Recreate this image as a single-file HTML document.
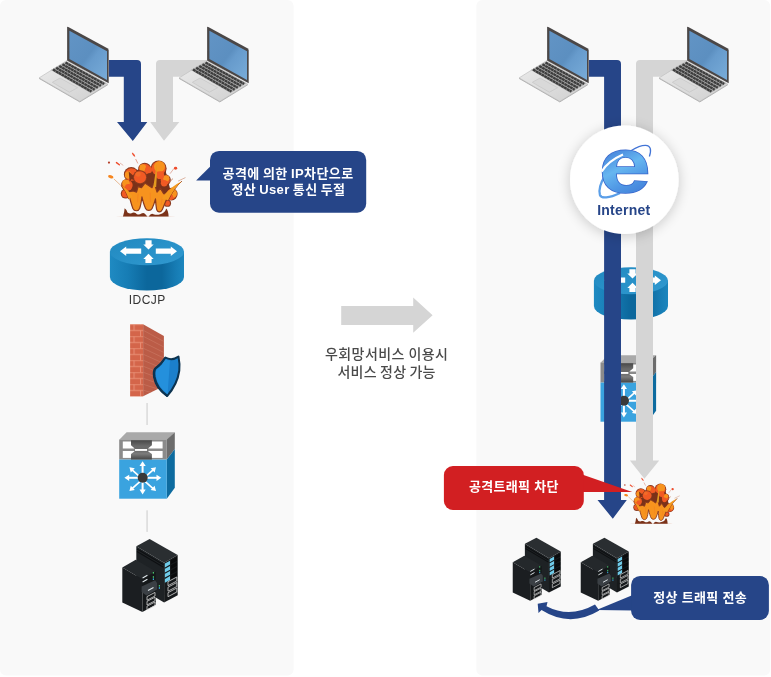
<!DOCTYPE html>
<html lang="ko">
<head>
<meta charset="utf-8">
<title>우회망서비스</title>
<style>
html,body{margin:0;padding:0;background:#fff;}
body{width:771px;height:677px;overflow:hidden;position:relative;font-family:"Liberation Sans","Noto Sans CJK KR",sans-serif;}
svg{position:absolute;left:0;top:0;display:block;will-change:transform;}
svg text{font-family:"Liberation Sans","Noto Sans CJK KR",sans-serif;}
.bt{font-size:13px;font-weight:700;fill:#fff;text-anchor:middle;letter-spacing:0.3px;}
.mid{font-size:14px;font-weight:500;fill:#4a4a4a;text-anchor:middle;letter-spacing:0.3px;}
</style>
</head>
<body>
<svg width="771" height="677" viewBox="0 0 771 677">
<defs>
<linearGradient id="scr" x1="0" y1="0" x2="1" y2="1">
<stop offset="0" stop-color="#6294c5"/><stop offset="0.5" stop-color="#5c8fc0"/><stop offset="0.6" stop-color="#679bcc"/><stop offset="1" stop-color="#78acd9"/>
</linearGradient>
<linearGradient id="base" x1="0" y1="0" x2="1" y2="1">
<stop offset="0" stop-color="#ececec"/><stop offset="1" stop-color="#cfcfcf"/>
</linearGradient>
<linearGradient id="rside" x1="0" y1="0" x2="1" y2="0">
<stop offset="0" stop-color="#1f8ac2"/><stop offset="0.25" stop-color="#167cb4"/><stop offset="0.5" stop-color="#0c679c"/><stop offset="0.7" stop-color="#0c679c"/><stop offset="0.9" stop-color="#177db5"/><stop offset="1" stop-color="#1c86be"/>
</linearGradient>
<filter id="sh" x="-40%" y="-40%" width="180%" height="180%">
<feGaussianBlur in="SourceAlpha" stdDeviation="6.5"/><feOffset dx="0" dy="1.5"/>
<feComponentTransfer><feFuncA type="linear" slope="0.2"/></feComponentTransfer>
<feMerge><feMergeNode/><feMergeNode in="SourceGraphic"/></feMerge>
</filter>

<!-- laptop: coordinates of laptop #1 -->
<g id="laptop">
<path d="M39.1 77.9 L67.1 60.4 L107.8 84.2 L79.8 101.4 Z" fill="url(#base)" stroke="#c4c4c4" stroke-width="0.8" stroke-linejoin="round"/>
<path d="M39.1 78.4 L79.8 101.9 L107.8 84.7" fill="none" stroke="#b5b5b5" stroke-width="1"/>
<path d="M50.9 70.1 L66.5 61.4 L106.3 83.3 L90.5 92.9 Z" fill="#a8a8a8"/><path d="M65.55 62.61L104.11 83.92M62.43 64.35L100.95 85.84M59.31 66.09L97.79 87.76M56.19 67.84L94.63 89.67M53.07 69.58L91.47 91.59" stroke="#3d3d3d" stroke-width="2.3" stroke-dasharray="2.9 0.35" fill="none"/>
<path d="M52.3 82.3 L60 78 L77.6 87.7 L69.4 92.2 Z" fill="#d9d9d9" stroke="#c2c2c2" stroke-width="0.6"/>
<path d="M67.1 27.6 Q67.1 26.4 68.3 27 L107.4 48.2 Q108.7 49 108.7 50.4 L108.7 83.2 L67.1 60.4 Z" fill="#4b4747"/>
<path d="M69.4 30.8 L107 51.2 L107 80 L69.4 58.9 Z" fill="url(#scr)"/>
</g>

<linearGradient id="rtop" x1="0" y1="0" x2="1" y2="1">
<stop offset="0" stop-color="#2089c0"/><stop offset="1" stop-color="#3199d0"/>
</linearGradient>
<linearGradient id="hg" x1="0" y1="0" x2="0" y2="1">
<stop offset="0" stop-color="#484848"/><stop offset="0.3" stop-color="#6a6a6a"/><stop offset="0.55" stop-color="#6c6c6c"/><stop offset="0.7" stop-color="#7c7c7c"/><stop offset="1" stop-color="#454545"/>
</linearGradient>
<linearGradient id="iegr" x1="0.2" y1="0" x2="0.5" y2="1">
<stop offset="0" stop-color="#3562c8"/><stop offset="0.3" stop-color="#4682da"/><stop offset="0.55" stop-color="#66b6f0"/><stop offset="0.75" stop-color="#4f96e4"/><stop offset="1" stop-color="#3d76d4"/>
</linearGradient>
<pattern id="brick" x="130.1" y="324.2" width="13" height="12" patternUnits="userSpaceOnUse">
<rect width="13" height="12" fill="#d4654a"/>
<path d="M0 0.3H13M0 6.3H13M4 0V6M10.5 6V12" stroke="#ea9379" stroke-width="0.9" fill="none"/>
</pattern>

<!-- router (coords of left router) -->
<g id="router">
<path d="M109.9 251.7 V277.1 A37.05 13.5 0 0 0 184 277.1 V251.7 Z" fill="url(#rside)"/>
<ellipse cx="146.95" cy="251.7" rx="37.05" ry="13.5" fill="url(#rtop)"/>
<path d="M120 251.2 L126.2 246.5 V248.6 H141.2 V253.8 H126.2 V255.9 Z" fill="#fff"/>
<path d="M177 251.2 L170.8 246.5 V248.6 H155.8 V253.8 H170.8 V255.9 Z" fill="#fff"/>
<path d="M148.5 249.6 L143.3 244.4 H145.4 V240.3 H151.6 V244.4 H153.7 Z" fill="#fff"/>
<path d="M148.5 253.8 L143.3 258.9 H145.4 V263.1 H151.6 V258.9 H153.7 Z" fill="#fff"/>
</g>

<!-- switch (coords of left switch) -->
<g id="switch">
<path d="M119.2 439.8 L126.6 432.2 H174.8 L166.8 439.8 Z" fill="#a9a9a9"/>
<path d="M166.8 439.6 L174.8 432.2 V449 L166.8 459.6 Z" fill="#6c6c6c"/>
<path d="M166.8 459.6 L174.8 449 V487.8 L166.8 498.7 Z" fill="#0d6b9f"/>
<rect x="119.2" y="439.6" width="47.6" height="20" fill="#8b8b8b"/>
<rect x="119.2" y="459.6" width="47.6" height="39.1" fill="#3aa3df"/>
<rect x="122.8" y="441.5" width="39.8" height="7" fill="#fff"/>
<rect x="122.8" y="451" width="39.8" height="6.9" fill="#fff"/>
<path d="M131 440.2 H151.9 V445.3 L148.3 448.2 V451.6 L151.9 454.1 V459.6 H131 V454.1 L134.4 451.6 V448.2 L131 445.3 Z" fill="url(#hg)"/>
<rect x="134.9" y="449" width="12.2" height="1.9" fill="#fff"/>
<g stroke="#fff" stroke-width="2" fill="#fff" stroke-linecap="butt">
<path d="M142.6 464 V492" fill="none"/><path d="M127 477.8 H159" fill="none"/>
<path d="M131.8 469.6 L153.4 488.8 M153.4 469.6 L131.8 488.8" fill="none" stroke-width="1.7"/>
</g>
<g fill="#fff">
<path d="M142.6 461.2 L145.7 466 H139.5 Z"/><path d="M142.6 494.4 L145.7 489.6 H139.5 Z"/>
<path d="M124.4 477.8 L129.2 474.7 V480.9 Z"/><path d="M161.3 477.8 L156.5 474.7 V480.9 Z"/>
<path d="M129.4 467.3 L134.8 468.3 L130.8 472.6 Z"/><path d="M156 467.3 L150.6 468.3 L154.6 472.6 Z"/>
<path d="M129.4 491.1 L134.8 490.1 L130.8 485.8 Z"/><path d="M156 491.1 L150.6 490.1 L154.6 485.8 Z"/>
</g>
<circle cx="142.7" cy="477.8" r="5" fill="#3a3a3a"/>
</g>

<!-- server (coords of left server) -->
<g id="server">
<path d="M136.3 546.2 L149.6 539.1 L177.7 555.1 L164.1 562.8 Z" fill="#2a2e31"/>
<path d="M136.3 546.2 L164.1 562.8 V602.4 L136.3 586 Z" fill="#1e2225"/>
<path d="M164.1 562.8 L177.7 555.1 V595.3 L164.1 602.4 Z" fill="#16191b"/>
<path d="M137 549 L163.5 564.8 M137 551.5 L163.5 567.3" stroke="#0e1012" stroke-width="1.2" fill="none"/>
<g fill="#6fcbe9">
<path d="M164.9 563.6 L170 560.8 V564.6 L164.9 567.4 Z"/>
<path d="M164.9 568.7 L170 565.9 V569.7 L164.9 572.5 Z"/>
<path d="M164.9 573.8 L170 571 V574.8 L164.9 577.6 Z"/>
<path d="M164.9 578.9 L170 576.1 V579.9 L164.9 582.7 Z"/>
</g>
<g fill="#0a0b0c">
<path d="M171 560.2 L177 556.9 V560.7 L171 564 Z"/>
<path d="M171 565.3 L177 562 V565.8 L171 569.1 Z"/>
<path d="M171 570.4 L177 567.1 V570.9 L171 574.2 Z"/>
<path d="M171 575.5 L177 572.2 V576 L171 579.3 Z"/>
</g>
<g fill="none" stroke="#d4d4d4" stroke-width="0.8">
<path d="M168 581.7 L176.8 577 V581 L168 585.7 Z"/>
<path d="M168 587.2 L176.8 582.5 V586.5 L168 591.2 Z"/>
<path d="M168 592.7 L176.8 588 V592 L168 596.7 Z"/>
</g>
<path d="M122.3 567.5 L135.7 559.8 L155.8 571.5 L142.4 579.2 Z" fill="#24282b"/>
<path d="M122.3 567.5 L142.4 579.2 V611.9 L122.3 602.4 Z" fill="#1b1e21"/>
<path d="M142.4 579.2 L155.8 571.5 V604.8 L142.4 611.9 Z" fill="#15181a"/>
<path d="M141.6 586.5 L155.2 580.3 L157 583 L157 589.5 L146.5 595.5 L141.6 592 Z" fill="#3b4045"/>
<path d="M142.6 578 L147.4 575.3 M142.6 582 L147.4 579.3 M148 590.5 L153.5 587.5" stroke="#dfe6ea" stroke-width="1.1" fill="none"/>
<g fill="#46c36a"><rect x="152.8" y="572" width="1.2" height="1.6"/><rect x="152.8" y="576.2" width="1.2" height="1.6"/><rect x="158.8" y="585" width="1.2" height="1.6"/></g>
<g fill="#3aa7e0"><rect x="152.8" y="578.4" width="1.2" height="1.6"/><rect x="158.8" y="587.2" width="1.2" height="1.6"/></g>
<g fill="none" stroke="#d4d4d4" stroke-width="0.8">
<path d="M147 596.6 L155 592.4 V596 L147 600.2 Z"/>
<path d="M147 601.4 L155 597.2 V600.8 L147 605 Z"/>
<path d="M147 606.2 L155 602 V605.6 L147 609.8 Z"/>
</g>
</g>

<!-- explosion, drawn in a 771x635 box -->
<g id="boom">
<ellipse cx="370" cy="602" rx="270" ry="5" fill="#ecd3c8" opacity="0.8"/>
<path d="M163 603 Q176 565 178 528 Q198 543 204 566 Q228 584 250 570 Q272 562 290 582 Q310 592 330 577 Q348 564 366 582 L384 603 Z" fill="#7b3219"/>
<path d="M396 603 Q418 568 440 582 Q470 593 500 582 Q542 572 556 530 Q574 546 577 603 Z" fill="#7b3219"/>
<g fill="#8b3a1e"><circle cx="238" cy="222" r="67"/><circle cx="360" cy="174" r="59"/><circle cx="486" cy="168" r="73"/><circle cx="546" cy="272" r="51"/><circle cx="204" cy="318" r="57"/><circle cx="188" cy="396" r="45"/><circle cx="602" cy="400" r="57"/><circle cx="566" cy="482" r="33"/></g>
<path d="M200 200 L300 180 L420 170 L550 190 L610 430 L190 430 Z" fill="#7b3219"/>
<g fill="#f15a24"><circle cx="238" cy="222" r="57"/><circle cx="360" cy="174" r="49"/><circle cx="486" cy="168" r="63"/><circle cx="546" cy="272" r="41"/><circle cx="204" cy="318" r="47"/><circle cx="188" cy="396" r="35"/><circle cx="602" cy="400" r="47"/><circle cx="566" cy="482" r="23"/></g>
<g fill="#f7931e"><circle cx="214" cy="226" r="34"/><circle cx="342" cy="160" r="30"/><circle cx="494" cy="150" r="50"/><circle cx="556" cy="256" r="28"/><circle cx="190" cy="302" r="34"/><circle cx="616" cy="394" r="36"/></g>
<g fill="#f15a24"><circle cx="212" cy="338" r="30"/><circle cx="592" cy="428" r="26"/><circle cx="500" cy="228" r="36"/><circle cx="395" cy="180" r="32"/><circle cx="258" cy="200" r="28"/><circle cx="536" cy="302" r="30"/><circle cx="200" cy="400" r="28"/></g>
<g fill="#7b3219"><path d="M215 195 L252 228 L292 215 L266 252 L282 278 L240 266 L224 288 L220 250 Z"/><path d="M380 214 L405 250 L432 216 L436 300 L466 270 L478 332 L446 362 L420 330 L400 352 L376 310 L360 332 L358 270 Z"/><path d="M262 318 L312 330 L322 378 L280 388 L254 360 Z"/><path d="M474 292 L510 312 L518 362 L480 368 L460 330 Z"/><path d="M540 362 L570 352 L562 402 L536 412 Z"/></g>
<circle cx="318" cy="247" r="64" fill="#8b3a1e"/><circle cx="318" cy="247" r="55" fill="#f15a24"/>
<circle cx="300" cy="218" r="24" fill="#f4742a" opacity="0.6"/>
<path d="M210 380 C225 440 240 500 253 530 C266 558 302 558 314 530 C324 505 330 465 335 426 C345 470 358 510 368 530 C380 554 414 554 427 530 C440 505 450 475 458 444 C460 480 464 515 468 538 C478 570 508 568 520 540 C547 480 566 430 582 380 Q562 402 532 396 L503 348 L472 382 L447 300 L426 342 L396 322 L362 300 L331 342 L300 332 L286 382 L256 372 Z" fill="#f7931e" stroke="#8b3a1e" stroke-width="11" stroke-linejoin="round"/>
<path d="M300 400 L296 470 M410 390 L412 470 M520 430 L508 500" stroke="#f47a20" stroke-width="6" stroke-linecap="round" fill="none" opacity="0.8"/>
<path d="M438 335 Q455 230 468 122 Q476 230 464 335 Z" fill="#e39a1f"/>
<path d="M697 283 Q625 345 574 456" fill="none" stroke="#8b3a1e" stroke-width="9"/><path d="M512 440 Q585 335 697 283 Q625 345 572 456 Z" fill="#f59a1e"/>
<path d="M148 322 Q190 370 216 446" fill="none" stroke="#8b3a1e" stroke-width="9"/><path d="M148 322 Q208 356 250 420 L216 446 Q190 370 148 322 Z" fill="#f59a1e"/>
<path d="M247 27 Q263 32 271 57 Q257 60 247 27 Z" fill="#ee4b2b" stroke="#ee4b2b" stroke-width="7" stroke-linejoin="round"/>
<path d="M278 82 L298 122" stroke="#dc8a74" stroke-width="7" fill="none"/>
<circle cx="36" cy="114" r="10" fill="#b5402a"/>
<path d="M104 114 L130 134" stroke="#ee4b2b" stroke-width="13" stroke-linecap="round" fill="none"/>
<path d="M136 118 L166 140" stroke="#dc9a88" stroke-width="6" fill="none"/>
<ellipse cx="52" cy="242" rx="25" ry="14" transform="rotate(15 52 242)" fill="#f6861f"/>
<path d="M80 262 L142 320" stroke="#e2a878" stroke-width="7" fill="none"/>
<ellipse cx="640" cy="166" rx="15" ry="13" fill="#ee4b2b"/>
<path d="M590 215 L622 172" stroke="#dc9a88" stroke-width="7" fill="none"/>
<path d="M583 292 L616 260" stroke="#c27a56" stroke-width="8" fill="none"/>
<path d="M663 282 L730 250" stroke="#d4a088" stroke-width="7" fill="none"/>
</g>
</defs>

<!-- panels -->
<rect x="0" y="0" width="293.6" height="675.6" rx="6" fill="#f9f9f9"/>
<rect x="476.3" y="0" width="293.9" height="675.6" rx="6" fill="#f9f9f9"/>

<!-- left arrows -->
<path d="M109 60 H137 Q141 60 141 64 V122 H147.3 L132.8 140.9 L117 122 H123.8 V76.8 H109 Z" fill="#264588"/>
<path d="M215 60 H160 Q156 60 156 64 V122 H150.2 L164 140.8 L179.3 122 H173 V76.8 H215 Z" fill="#d5d5d5"/>
<use href="#laptop"/>
<use href="#laptop" x="140"/>


<!-- left column icons -->
<use href="#boom" transform="translate(105 150) scale(0.11025)"/>
<use href="#router"/>
<clipPath id="fwc"><path d="M143.1 324.2 L163.9 336 V386 L143.1 396.2 Z"/></clipPath>
<g id="fw">
<rect x="130.1" y="324.2" width="13" height="72.3" fill="url(#brick)"/>
<path d="M143.1 324.2 L163.9 336 V386 L143.1 396.2 Z" fill="#bb5c47"/>
<path d="M143.1 330.2 L163.9 341.5 M143.1 336.2 L163.9 347 M143.1 342.2 L163.9 352.5 M143.1 348.2 L163.9 358 M143.1 354.2 L163.9 363.5 M143.1 360.2 L163.9 369 M143.1 366.2 L163.9 374.5 M143.1 372.2 L163.9 380 M143.1 378.2 L163.9 385.5 M143.1 384.2 L163.9 391 M143.1 390.2 L163.9 396" stroke="#cf7f6a" stroke-width="0.7" fill="none" opacity="0.75" clip-path="url(#fwc)"/>
<path d="M164.8 357.8 Q160.5 364.5 154.6 368.5 Q152.8 371 153.6 377 Q155.5 388.5 166.8 396.3 L167.3 393 Q158 386 156.5 377 Q155.8 372 157 370 Q162.5 366 165.6 360 Z" fill="#0c3350" stroke="#0c3350" stroke-width="1.2" stroke-linejoin="round"/>
<path d="M165.4 357.5 Q171.6 361.2 178.5 356.6 Q180 364 179.3 370.5 Q177.5 384 167.3 395.9 Q156.5 388 154.6 377 Q153.8 371 155.6 368.5 Q161.5 364.5 165.4 357.5 Z" fill="#1b7fcb" stroke="#0c3350" stroke-width="2" stroke-linejoin="round"/>
<path d="M165.6 359.2 Q167.8 360.6 170 360.6 L167.6 394 Q157.8 387 156 376.6 Q155.3 371.5 156.6 369.6 Q162 365.6 165.6 359.2 Z" fill="#2490dc"/>
</g>
<rect x="146.3" y="403" width="1.6" height="22" fill="#dcdcdc"/>
<use href="#switch"/>
<rect x="146.3" y="510.3" width="1.6" height="21.6" fill="#dcdcdc"/>
<use href="#server"/>

<!-- bubble 1 -->
<path d="M213 163.7 L196.1 180.6 H213 Z" fill="#264588"/>
<rect x="210" y="150.9" width="156.2" height="61.8" rx="9" fill="#264588"/>
<text class="bt" x="288.1" y="177.5" style="letter-spacing:0.4px;word-spacing:-0.7px">공격에 의한 IP차단으로</text>
<text class="bt" x="288.4" y="194.4" style="letter-spacing:0.32px;word-spacing:-0.6px">정산 User 통신 두절</text>

<!-- middle arrow -->
<path d="M341.2 306 H413.2 V297.6 L432.6 315.2 L413.2 332.8 V325 H341.2 Z" fill="#d5d5d5"/>
<text class="mid" x="386.7" y="359" style="letter-spacing:0.42px;word-spacing:-0.6px">우회망서비스 이용시</text>
<text class="mid" x="386.6" y="377" style="letter-spacing:0.2px;word-spacing:-0.8px">서비스 정상 가능</text>


<!-- right column icons (behind arrows) -->
<use href="#router" x="484" y="29"/>
<use href="#switch" x="481.3" y="-77"/>
<!-- right arrows -->
<path d="M589 60 H617 Q621 60 621 64 V500 H626.8 L612.8 518.7 L597.5 500 H604.1 V76.8 H589 Z" fill="#264588"/>
<path d="M695 60 H640 Q636 60 636 64 V460.4 H629.9 L644.4 478.7 L659.2 460.4 H653 V76.8 H695 Z" fill="#d5d5d5"/>
<use href="#laptop" x="480"/>
<use href="#laptop" x="620"/>

<!-- internet circle -->
<circle cx="624.3" cy="179.8" r="54.3" fill="#fff" filter="url(#sh)"/>

<g id="ie">
<path d="M630.9 150.7 C637 147 642 145.2 645.5 145.3 C651 145.6 651.5 150 649.4 156.5" fill="none" stroke="#4274d6" stroke-width="1.3"/>
<path d="M605 175.5 C600.5 183 598.6 190 599.9 194.8 C601.2 198.8 609 198.3 620 193" fill="none" stroke="#5a9ee8" stroke-width="2.3"/>
<text x="0" y="0" font-size="80" font-weight="700" fill="url(#iegr)" stroke="#3866cc" stroke-width="1.5" paint-order="stroke" text-anchor="middle" transform="translate(624.9 192.2) scale(1.16 0.97)">e</text>
<path d="M623 154.6 C614 158.5 606 164.8 601.6 171.6" fill="none" stroke="#fff" stroke-width="2.2"/>
</g>
<text x="623.8" y="214.8" font-size="14" font-weight="700" fill="#264588" text-anchor="middle" letter-spacing="0.25">Internet</text>


<use href="#boom" transform="translate(622 476) scale(0.07912)"/>
<use href="#server" transform="translate(406.7 70.3) scale(0.867)"/>
<use href="#server" transform="translate(474.7 70.3) scale(0.867)"/>
<path d="M595 604.6 Q570 618.6 546.5 606.3 L547.5 602 L537.7 603.7 L538.5 613 L541.5 610 Q570 628 599.3 610.5 Z" fill="#264588"/>
<!-- red bubble -->
<path d="M580 473.7 L632.3 491.9 H580 Z" fill="#d21f22"/>
<rect x="443.9" y="466" width="139.9" height="44" rx="9" fill="#d21f22"/>
<text class="bt" x="513.8" y="491.4">공격트래픽 차단</text>

<!-- blue bubble 2 -->
<path d="M634 594.5 L596.5 610 L634 610.5 Z" fill="#264588"/>
<rect x="631.1" y="575.9" width="137.8" height="44.1" rx="9" fill="#264588"/>
<text class="bt" x="700.1" y="601.7">정상 트래픽 전송</text>
<text x="147.3" y="304.2" font-size="12" fill="#333" text-anchor="middle" letter-spacing="0.5">IDCJP</text>
</svg>
</body>
</html>
